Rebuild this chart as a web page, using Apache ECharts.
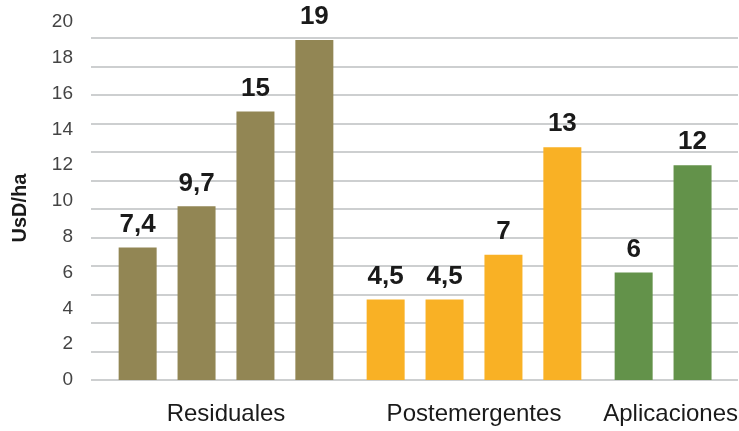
<!DOCTYPE html>
<html>
<head>
<meta charset="utf-8">
<script src="https://cdn.jsdelivr.net/npm/echarts@6/dist/echarts.min.js"></script>
<style>
html,body{margin:0;padding:0;background:#fff;}
#c{width:739px;height:431px;}
</style>
</head>
<body>
<div id="c"></div>
<script>
// Data
var categories = ['Residuales', 'Postemergentes', 'Aplicaciones'];
var bar1 = [7.4, 4.5, 6];
var bar2 = [9.7, 4.5, 12];
var bar3 = [15, 7, null];
var bar4 = [19, 13, null];
var groupColors = ['#928654', '#F9B125', '#63924A'];
var yTicks = {min: 0, max: 20, interval: 2};
var yName = 'UsD/ha';

var font = '"Liberation Sans", Arial, Helvetica, sans-serif';

function mkSeries(data) {
  return {
    type: 'bar',
    xAxisIndex: 1,
    yAxisIndex: 1,
    data: data,
    barWidth: 38,
    barGap: '55%',
    itemStyle: {
      color: function (p) { return groupColors[p.dataIndex]; }
    },
    label: {
      show: true,
      position: 'top',
      distance: 10,
      fontFamily: font,
      fontSize: 26,
      fontWeight: 'bold',
      color: '#1a1a1a',
      formatter: function (p) { return String(p.value).replace('.', ','); }
    }
  };
}

var chart = echarts.init(document.getElementById('c'), null, {renderer: 'canvas'});
chart.setOption({
  animation: false,
  backgroundColor: '#ffffff',
  grid: [
    {left: 91, right: 1, top: 38, bottom: 51, outerBoundsMode: 'none', containLabel: false},
    {left: 102, width: 744, top: 22, bottom: 51, outerBoundsMode: 'none', containLabel: false}
  ],
  xAxis: [
    {gridIndex: 0, type: 'value', min: 0, max: 1, show: false},
    {
      gridIndex: 1,
      type: 'category',
      data: [
        categories[0],
        categories[1],
        {value: categories[2], textStyle: {align: 'right', padding: [0, -16, 0, 0]}}
      ],
      axisLine: {show: false},
      axisTick: {show: false},
      axisLabel: {
        margin: 22,
        interval: 0,
        hideOverlap: false,
        fontFamily: font,
        fontSize: 24,
        color: '#1a1a1a'
      }
    }
  ],
  yAxis: [
    {
      gridIndex: 0,
      type: 'value',
      min: 0, max: 12, interval: 1,
      axisLine: {show: false},
      axisTick: {show: false},
      axisLabel: {show: false},
      splitLine: {show: true, lineStyle: {color: '#bdbfc1', width: 1.5}}
    },
    {
      gridIndex: 1,
      type: 'value',
      min: yTicks.min, max: yTicks.max, interval: yTicks.interval,
      name: yName,
      nameLocation: 'middle',
      nameRotate: 90,
      nameGap: 72,
      nameTextStyle: {fontFamily: font, fontSize: 20, fontWeight: 'bold', color: '#1a1a1a', padding: [0, 14, 0, 0]},
      axisLine: {show: false},
      axisTick: {show: false},
      splitLine: {show: false},
      axisLabel: {margin: 29, fontFamily: font, fontSize: 19, color: '#444444'}
    }
  ],
  series: [mkSeries(bar1), mkSeries(bar2), mkSeries(bar3), mkSeries(bar4)]
});
</script>
</body>
</html>
